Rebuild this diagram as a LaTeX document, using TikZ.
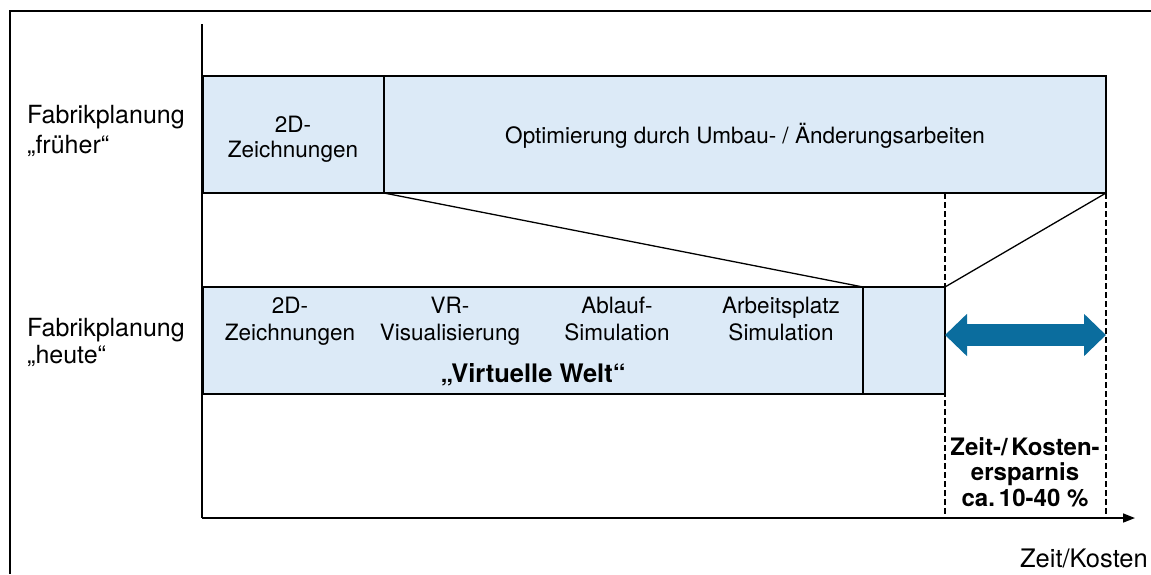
\documentclass[tikz,border=0pt]{standalone}
\usepackage{fontspec}
\setmainfont{TeX Gyre Heros}
\usetikzlibrary{arrows.meta}
\definecolor{boxfill}{HTML}{DCEAF7}
\definecolor{savearrow}{HTML}{0B6D9E}
\begin{document}
\begin{tikzpicture}[x=1pt,y=-1pt,
  box/.style={draw=black, line width=1.4pt, fill=boxfill, rectangle,
              anchor=north west, inner sep=0pt, outer sep=0pt},
  side/.style={font=\fontsize{25}{29}\selectfont, align=left, inner sep=0pt, anchor=base west},
  boxtext/.style={font=\fontsize{22.5}{26.5}\selectfont, align=center, inner sep=0pt, anchor=base},
  boldtext/.style={font=\bfseries\fontsize{25.5}{25.5}\selectfont, align=center, inner sep=0pt, anchor=base},
  guide/.style={black, line width=1.3pt, dash pattern=on 5.5pt off 3.5pt},
  link/.style={black, line width=1.3pt},
  axis/.style={black, line width=1.6pt}]
\useasboundingbox (0,0) rectangle (1151,574);

% outer frame
\draw[line width=2pt] (1151,11) -- (10,11) -- (10,574);

% axes
\coordinate (origin) at (202,518);
\coordinate (ytop) at (202,24);
\coordinate (xend) at (1135,518);
\draw[axis] (ytop) -- (origin);
\draw[axis, -{Triangle[length=12pt,width=9pt]}] (origin) -- (xend);

% former planning
\node[box, minimum width=181pt, minimum height=117pt] (old2d) at (203,76) {};
\node[box, minimum width=722pt, minimum height=117pt] (opt) at (384,76) {};
\node[boxtext, font=\fontsize{22.5}{25}\selectfont] (old2dtext) at (293,157) {2D-\\Zeichnungen};
\node[boxtext] (opttext) at (745,143) {Optimierung durch Umbau- / Änderungsarbeiten};

% today's planning
\node[box, minimum width=660pt, minimum height=107pt] (vw) at (203,287) {};
\node[box, minimum width=82pt, minimum height=107pt] (rest) at (863,287) {};
\node[boxtext] (new2d) at (290,340) {2D-\\Zeichnungen};
\node[boxtext] (vr) at (450,340) {VR-\\Visualisierung};
\node[boxtext] (ablauf) at (617,340) {Ablauf-\\Simulation};
\node[boxtext] (arbeit) at (781,340) {Arbeitsplatz\\Simulation};
\node[boldtext] (welt) at (533,382) {„Virtuelle Welt“};

% side labels
\node[side, font=\fontsize{25}{30}\selectfont] (frueher) at (27,153) {Fabrikplanung\\„früher“};
\node[side, font=\fontsize{25}{27}\selectfont] (heute) at (27,363) {Fabrikplanung\\„heute“};

% projection lines
\draw[link] (old2d.south east) -- (vw.north east);
\draw[link] (rest.north east) -- (opt.south east);

% saving interval
\coordinate (gl) at (origin -| rest.east);
\coordinate (gr) at (origin -| opt.east);
\draw[guide] (opt.south -| rest.east) -- (gl);
\draw[guide] (opt.south east) -- (gr);
\coordinate (al) at (rest.east |- 0,335);
\coordinate (ar) at (opt.east |- 0,335);
\draw[savearrow, line width=22pt,
  {Triangle[length=22pt,width=41pt]}-{Triangle[length=22pt,width=41pt]}] (al) -- (ar);

\node[boldtext, font=\bfseries\fontsize{24}{25.5}\selectfont] (saving) at (1025,506)
  {Zeit-/\hspace{0.15em}Kosten-\\ersparnis\\ca.\,10-40 \%};
\node[font=\fontsize{25.5}{28}\selectfont, inner sep=0pt, anchor=base east] (xlabel) at (1148,567) {Zeit/Kosten};
\end{tikzpicture}
\end{document}
